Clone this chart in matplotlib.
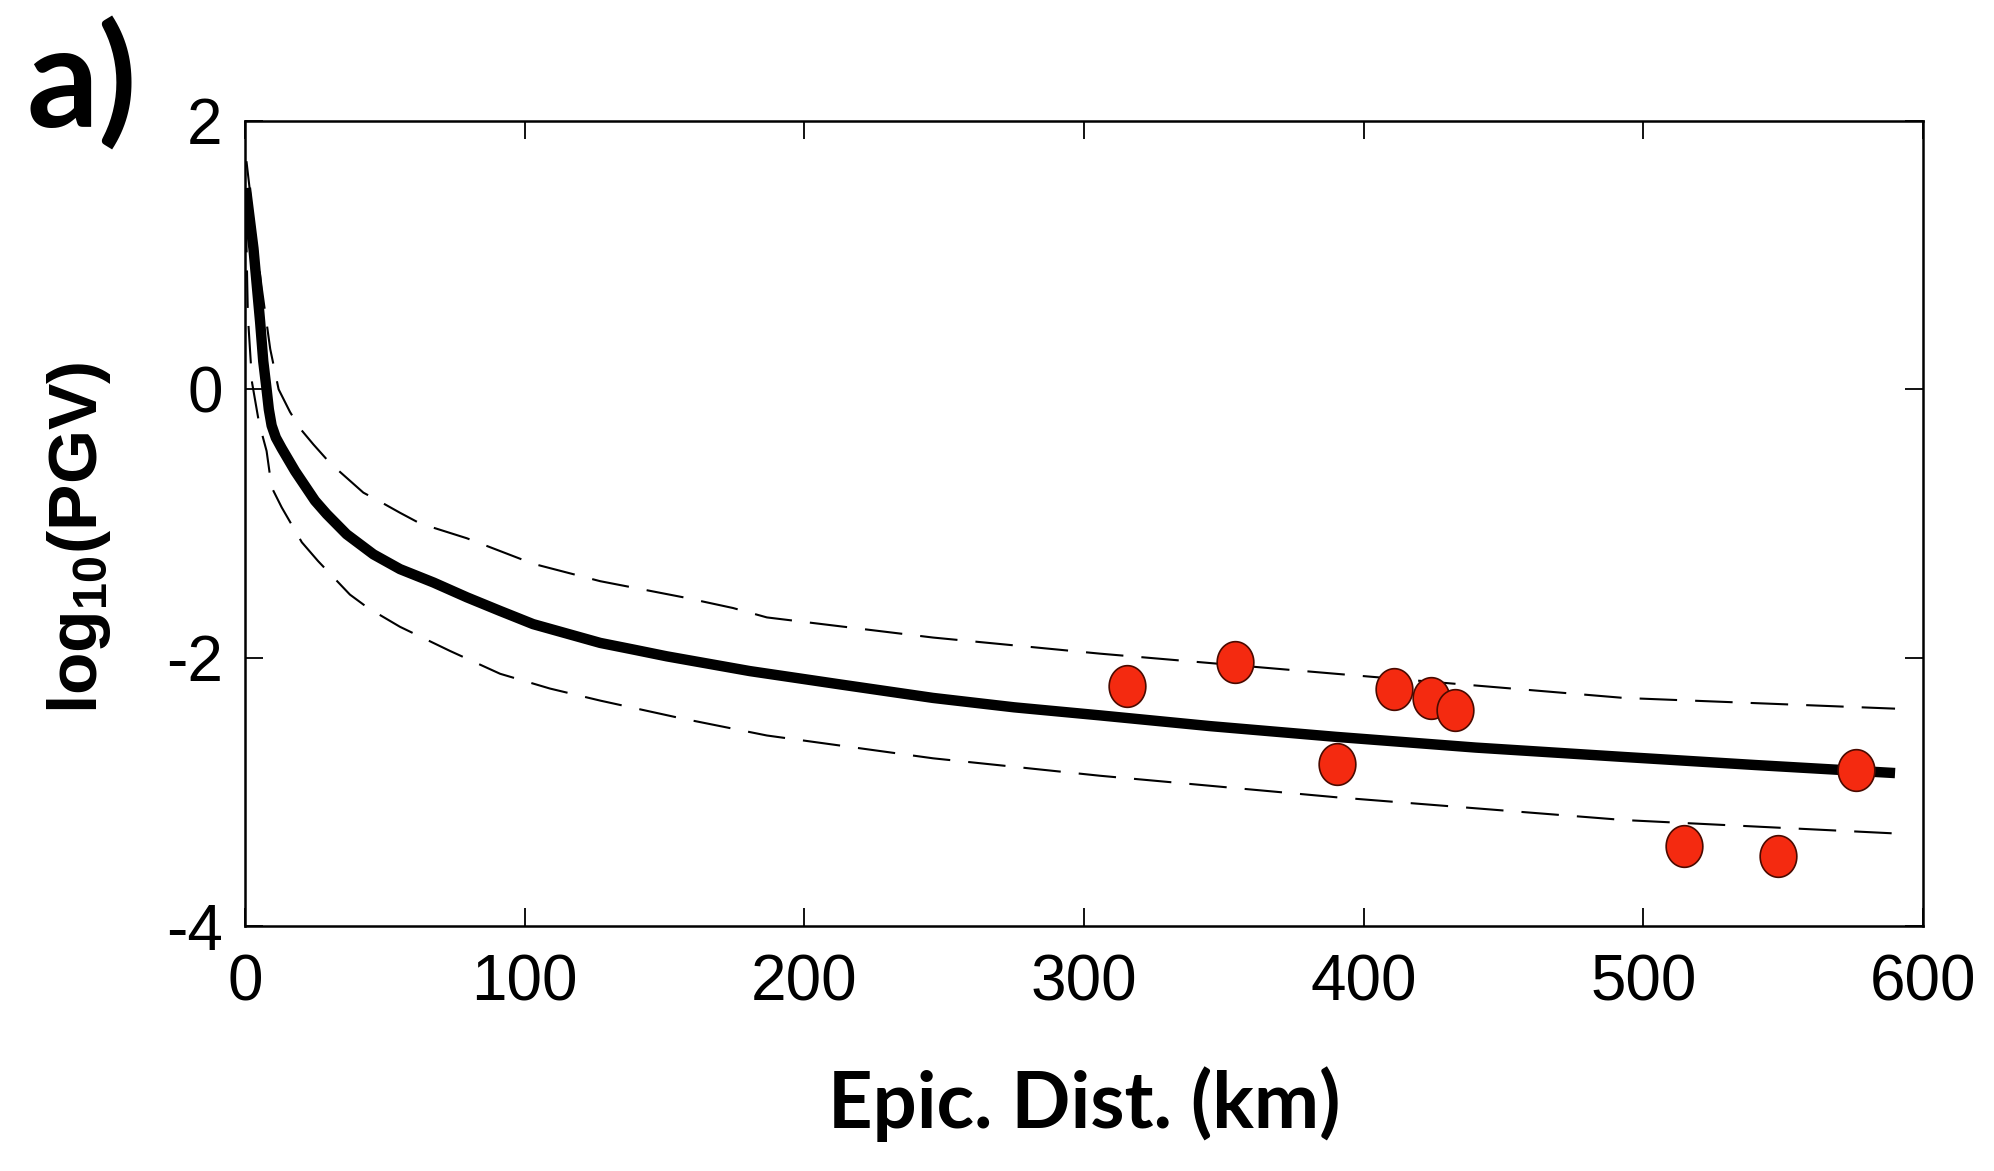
import numpy as np
import matplotlib
matplotlib.use('Agg')
import matplotlib.pyplot as plt
from matplotlib.path import Path

plt.rcParams['lines.scale_dashes'] = False
plt.rcParams['axes.unicode_minus'] = False
plt.rcParams['mathtext.fontset'] = 'custom'
plt.rcParams['mathtext.rm'] = 'Liberation Sans:bold'
plt.rcParams['mathtext.it'] = 'Liberation Sans:bold'
plt.rcParams['mathtext.bf'] = 'Liberation Sans:bold'

# mean curve
dist_mean = [0.3, 3, 5.4, 6.5, 7.7, 8.5, 9.5, 11, 13.1, 17.9, 25, 29.2, 36.3, 45.9, 55.4, 67.4,
             79.3, 91, 103, 115, 127, 139, 150.8, 180.5, 213, 246, 275, 305.7, 345, 390, 440,
             493, 540, 590]
pgv_mean = [1.5, 1.05, 0.5, 0.21, 0.0, -0.15, -0.27, -0.36, -0.44, -0.61, -0.83, -0.93, -1.08,
            -1.23, -1.34, -1.44, -1.55, -1.65, -1.75, -1.82, -1.89, -1.94, -1.99, -2.10, -2.20,
            -2.30, -2.37, -2.43, -2.51, -2.59, -2.67, -2.74, -2.80, -2.86]

# +/- sigma curves
dist_up = [0.5, 3, 6, 9, 12, 16.1, 20, 24.4, 30.4, 42.3, 49.4, 55.4, 62.6, 79.3, 103, 127,
           156.7, 174.5, 186.6, 246, 305.7, 390, 493, 590]
pgv_up = [1.7, 1.25, 0.75, 0.3, 0.0, -0.17, -0.3, -0.41, -0.55, -0.77, -0.85, -0.92, -1.0,
          -1.11, -1.30, -1.43, -1.55, -1.63, -1.70, -1.85, -1.97, -2.12, -2.30, -2.38]

dist_lo = [0.3, 1, 2.5, 5, 7.7, 9.5, 13.1, 20.3, 26.1, 37.5, 44, 55.4, 73.3, 91.2, 109, 127,
           155.5, 186.6, 246, 305.7, 390, 493, 590]
pgv_lo = [1.3, 0.55, 0.05, -0.25, -0.46, -0.73, -0.88, -1.14, -1.28, -1.53, -1.63, -1.77, -1.95,
          -2.12, -2.23, -2.32, -2.45, -2.58, -2.75, -2.88, -3.04, -3.21, -3.31]

# observations
obs_dist = [315.5, 354, 390.5, 411, 424, 432.5, 514.5, 548, 576]
obs_pgv = [-2.21, -2.03, -2.79, -2.23, -2.30, -2.39, -3.40, -3.48, -2.84]

xticks = [0, 100, 200, 300, 400, 500, 600]
yticks = [-4, -2, 0, 2]

fig = plt.figure(figsize=(19.94, 11.71), dpi=100)
ax = fig.add_axes([0.1229, 0.2092, 0.8415, 0.6875])

ax.plot(dist_up, pgv_up, color='black', lw=1.5, dashes=[27, 13])
ax.plot(dist_lo, pgv_lo, color='black', lw=1.5, dashes=[27, 13])
ax.plot(dist_mean, pgv_mean, color='black', lw=7.5, solid_capstyle='butt',
        solid_joinstyle='round')

# slightly tall ellipse marker
t = np.linspace(0, 2 * np.pi, 60)
ell = Path(np.column_stack([0.88 * np.cos(t), np.sin(t)]), closed=True)
ax.plot(obs_dist, obs_pgv, ls='none', marker=ell, markersize=30,
        markerfacecolor='#f42a10', markeredgecolor='#4a0a00', markeredgewidth=1.2, zorder=5)

ax.set_xlim(0, 600)
ax.set_ylim(-4, 2)
ax.set_xticks(xticks)
ax.set_yticks(yticks)
ax.tick_params(direction='in', length=13, width=1.3, top=True, right=True,
               labelsize=46, pad=20)
ax.tick_params(axis='y', pad=16)
for lab in ax.get_xticklabels() + ax.get_yticklabels():
    lab.set_fontfamily('Liberation Sans')
for s in ax.spines.values():
    s.set_linewidth(1.8)

fig.text(0.5436, 1 - 1128 / 1171, 'Epic. Dist. (km)', ha='center', va='baseline',
         fontsize=56, fontweight='bold', family='Lato')
fig.text(79 / 1994, 1 - 538 / 1171, r'log$_{10}$(PGV)', rotation=90, ha='center', va='center',
         fontsize=50, fontweight='bold', family='Liberation Sans')
fig.text(26 / 1994, 1 - 127 / 1171, 'a)', ha='left', va='baseline',
         fontsize=102, fontweight='bold', family='Lato')

fig.savefig('out.png', dpi=100)
